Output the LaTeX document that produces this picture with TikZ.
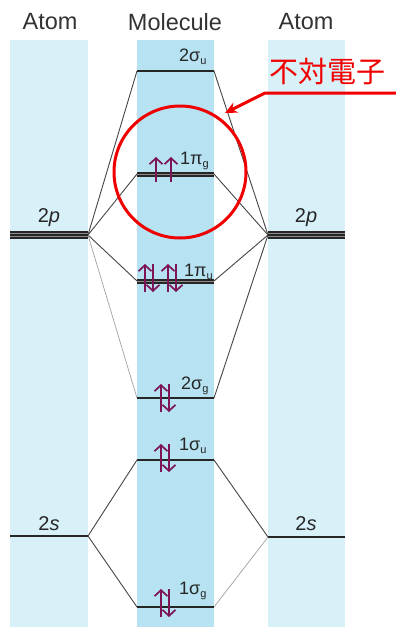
\documentclass[tikz,border=0pt]{standalone}
\usepackage{fontspec}
\setmainfont{Liberation Sans}
\newfontfamily\jpfont{Noto Sans CJK JP}
\usetikzlibrary{arrows.meta}
\definecolor{atomcol}{RGB}{216,241,249}
\definecolor{molcol}{RGB}{182,226,241}
\definecolor{spin}{RGB}{125,20,85}
\definecolor{conn}{RGB}{70,70,70}
\definecolor{connlight}{RGB}{160,160,160}
\definecolor{myred}{RGB}{240,0,0}
\begin{document}
\begin{tikzpicture}[x=1pt,y=-1pt,
  level/.style={line width=2.2pt,black!85},
  band/.style={line width=#1,black!85},
  gap/.style={line width=0.7pt,black!45},
  conline/.style={line width=0.9pt,conn},
  conlite/.style={line width=0.7pt,connlight},
  head/.style={font=\fontsize{23.5}{25}\selectfont,text=black!80,inner sep=0},
  orb/.style={font=\fontsize{20}{22}\selectfont,text=black!85,inner sep=0,anchor=base},
  lbl/.style={font=\fontsize{18}{20}\selectfont,text=black!85,inner sep=0,anchor=base west},
  up/.style={spin,line width=1.7pt,-{Straight Barb[length=6pt,width=13pt]}},
]
\newcommand{\sbs}[1]{\raisebox{-3pt}{\fontsize{11}{11}\selectfont #1}}
\useasboundingbox (0,0) rectangle (396,627);
\fill[white] (0,0) rectangle (396,627);
% columns
\fill[atomcol] (10,40) rectangle (88,627);
\fill[molcol] (137,40) rectangle (214,627);
\fill[atomcol] (268,40) rectangle (345,627);
% headers
\node[head] (hA1) at (50,22) {Atom};
\node[head] (hM) at (175,22) {Molecule};
\node[head] (hA2) at (306,22) {Atom};
% coordinates
\coordinate (Lp) at (88,235);
\coordinate (Rp) at (268,235);
\coordinate (Ls) at (88,536);
\coordinate (Rs) at (268,537);
\coordinate (suL) at (137,71);  \coordinate (suR) at (214,71);
\coordinate (pgL) at (137,174); \coordinate (pgR) at (214,174);
\coordinate (puL) at (137,281); \coordinate (puR) at (214,281);
\coordinate (sgL) at (137,398); \coordinate (sgR) at (214,398);
\coordinate (s1uL) at (137,460); \coordinate (s1uR) at (214,460);
\coordinate (s1gL) at (137,607); \coordinate (s1gR) at (214,607);
% connectors
\draw[conline] (Lp) -- (suL);
\draw[conline] (Lp) -- (pgL);
\draw[conline] (Lp) -- (puL);
\draw[conlite] (Lp) -- (sgL);
\draw[conline] (Rp) -- (suR);
\draw[conline] (Rp) -- (pgR);
\draw[conline] (Rp) -- (puR);
\draw[conline] (Rp) -- (sgR);
\draw[conline] (Ls) -- (s1uL);
\draw[conline] (Ls) -- (s1gL);
\draw[conline] (Rs) -- (s1uR);
\draw[conlite] (Rs) -- (s1gR);
% atomic levels (triple)
\draw[band=8pt] (10,235) -- (Lp);
\draw[band=8pt] (Rp) -- (345,235);
\foreach \d in {-1.6,1.6} {
  \draw[gap] (10,235+\d) -- (88,235+\d);
  \draw[gap] (268,235+\d) -- (345,235+\d);
}
\draw[level] (10,536) -- (Ls);
\draw[level] (Rs) -- (345,537);
% molecular levels
\draw[level] (suL) -- (suR);
\draw[band=5pt] (pgL) -- (pgR);
\draw[gap] (pgL) -- (pgR);
\draw[band=5pt] (puL) -- (puR);
\draw[gap] (puL) -- (puR);
\draw[level] (sgL) -- (sgR);
\draw[level] (s1uL) -- (s1uR);
\draw[level] (s1gL) -- (s1gR);
% labels
\node[orb] (l2pL) at (49,222) {2\textit{p}};
\node[orb] (l2pR) at (306,222) {2\textit{p}};
\node[orb] (l2sL) at (49,530) {2\textit{s}};
\node[orb] (l2sR) at (306,530) {2\textit{s}};
\node[lbl] (lsu) at (179,61) {2σ\sbs{u}};
\node[lbl] (lpg) at (180,164) {1π\sbs{g}};
\node[lbl] (lpu) at (184,276) {1π\sbs{u}};
\node[lbl] (lsg) at (181,389) {2σ\sbs{g}};
\node[lbl] (ls1u) at (179,450) {1σ\sbs{u}};
\node[lbl] (ls1g) at (179,594) {1σ\sbs{g}};
% spins
\coordinate (a1) at (156,182); \coordinate (a1t) at (156,157);
\coordinate (a2) at (171,182); \coordinate (a2t) at (171,157);
\draw[up] (a1) -- (a1t);
\draw[up] (a2) -- (a2t);
\foreach \x/\y/\n in {145/278/p1,168/278/p2,161/398/q,161/458/r,161/603/s} {
  \coordinate (\n u0) at (\x,\y+14); \coordinate (\n u1) at (\x,\y-14);
  \coordinate (\n d0) at (\x+8,\y-14); \coordinate (\n d1) at (\x+8,\y+14);
  \draw[up] (\n u0) -- (\n u1);
  \draw[up] (\n d0) -- (\n d1);
}
% red annotation
\node[circle,draw=myred,line width=3pt,minimum size=132pt,inner sep=0] (circ) at (180,172) {};
\node[font=\jpfont\fontsize{29}{30}\selectfont,text=myred,inner sep=0] (jp) at (327,72) {不対電子};
\coordinate (r0) at (396,93);
\coordinate (r1) at (265,93);
\coordinate (r2) at (225,113);
\draw[myred,line width=3pt,-{Stealth[length=12pt,width=11pt]}] (r0) -- (r1) -- (r2);
\end{tikzpicture}
\end{document}
